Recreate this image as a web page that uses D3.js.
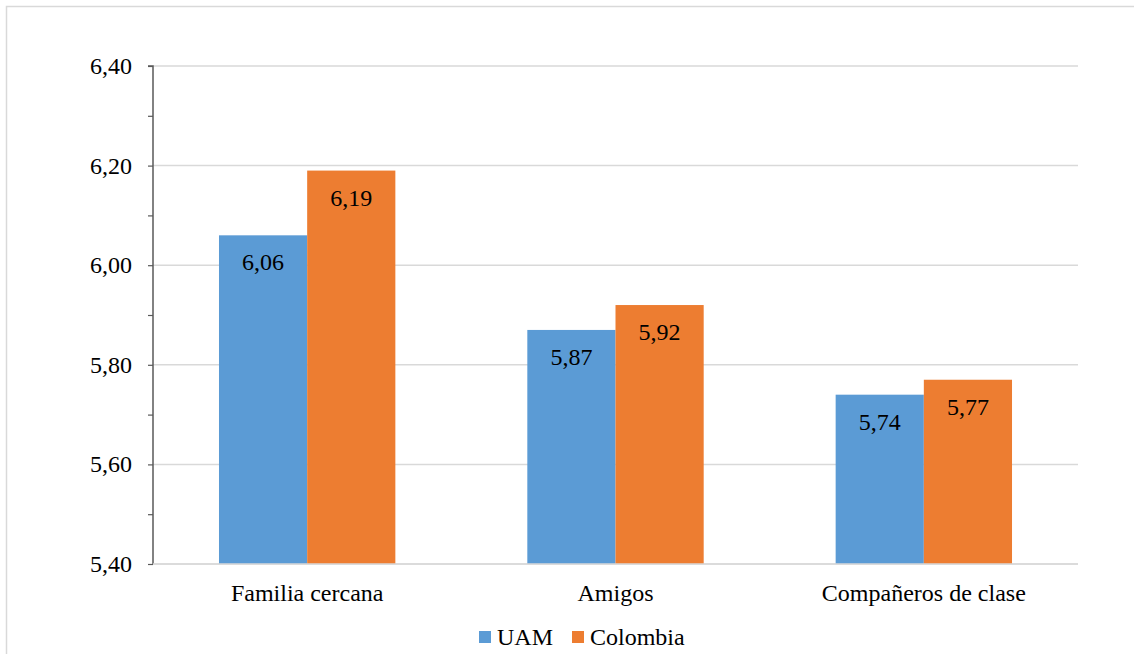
<!DOCTYPE html>
<html><head><meta charset="utf-8">
<script src="https://cdn.jsdelivr.net/npm/d3@7"></script>
<style>body{margin:0;background:#fff}svg{display:block}</style>
</head><body><svg id="c" width="1134" height="654"></svg>
<script>
const categories = ["Familia cercana", "Amigos", "Compañeros de clase"];
const seriesNames = ["UAM", "Colombia"];
const uam = [6.06, 5.87, 5.74];
const colombia = [6.19, 5.92, 5.77];
const yTicks = [5.40, 5.60, 5.80, 6.00, 6.20, 6.40];
const colors = ["#5b9bd5", "#ed7d31"];
const FONT = '"Liberation Serif", "Times New Roman", serif';

const svg = d3.select("#c");
svg.append("rect").attr("x",6.5).attr("y",6.5).attr("width",1140).attr("height",660)
  .attr("fill","#fff").attr("stroke","#d9d9d9").attr("stroke-width",1.5);

const L=153, R=1078, T=66, B=564;
const y = d3.scaleLinear().domain([5.4,6.4]).range([B,T]);
const x0 = d3.scaleBand().domain(categories).range([L,R]).paddingInner(0.428).paddingOuter(0.214);
const x1 = d3.scaleBand().domain(seriesNames).range([0,x0.bandwidth()]);
const fmt = v => d3.format(".2f")(v).replace(".", ",");
const txt = sel => sel.style("font-family", FONT).attr("font-size",24).attr("fill","#000");

// gridlines
svg.append("g").selectAll("line").data(yTicks).join("line")
  .attr("x1",L).attr("x2",R).attr("y1",d=>y(d)).attr("y2",d=>y(d))
  .attr("stroke","#d9d9d9").attr("stroke-width",1.5);

// bars
const data = categories.map((c,i)=>({c, vals:[uam[i], colombia[i]]}));
const g = svg.append("g").selectAll("g").data(data).join("g")
  .attr("transform", d=>`translate(${x0(d.c)},0)`);
g.selectAll("rect").data(d=>d.vals.map((v,j)=>({v, s:seriesNames[j], j}))).join("rect")
  .attr("x", d=>x1(d.s)).attr("width", x1.bandwidth())
  .attr("y", d=>y(d.v)).attr("height", d=>B - y(d.v))
  .attr("fill", d=>colors[d.j]);
g.selectAll("text").data(d=>d.vals.map((v,j)=>({v, s:seriesNames[j], j}))).join("text")
  .attr("x", d=>x1(d.s)+x1.bandwidth()/2).attr("y", d=>y(d.v)+35)
  .attr("text-anchor","middle").call(txt).text(d=>fmt(d.v));

// y axis
const yAxis = d3.axisLeft(y).tickValues(d3.range(5.4,6.41,0.1)).tickSize(5).tickFormat("");
const ya = svg.append("g").attr("transform",`translate(${L},0)`).call(yAxis);
ya.select(".domain").attr("stroke","#595959").attr("stroke-width",1.5).attr("d",`M-5,${T}H0V${B}`);
ya.selectAll(".tick line").attr("stroke","#595959").attr("stroke-width",1.2);
svg.append("g").selectAll("text").data(yTicks).join("text")
  .attr("x",132).attr("y",d=>y(d)+8).attr("text-anchor","end").call(txt).text(fmt);

// bottom baseline
svg.append("line").attr("x1",L).attr("x2",R).attr("y1",B).attr("y2",B).attr("stroke","#d9d9d9").attr("stroke-width",1.5);

// category labels
svg.append("g").selectAll("text").data(categories).join("text")
  .attr("x",d=>x0(d)+x0.bandwidth()/2).attr("y",601).attr("text-anchor","middle").call(txt).text(d=>d);

// legend
const leg = [{n:"UAM",x:479},{n:"Colombia",x:572}];
const lg = svg.append("g").selectAll("g").data(leg).join("g");
lg.append("rect").attr("x",d=>d.x).attr("y",631).attr("width",12).attr("height",12).attr("fill",(d,i)=>colors[i]);
lg.append("text").attr("x",d=>d.x+18).attr("y",645).call(txt).text(d=>d.n);
</script></body></html>
